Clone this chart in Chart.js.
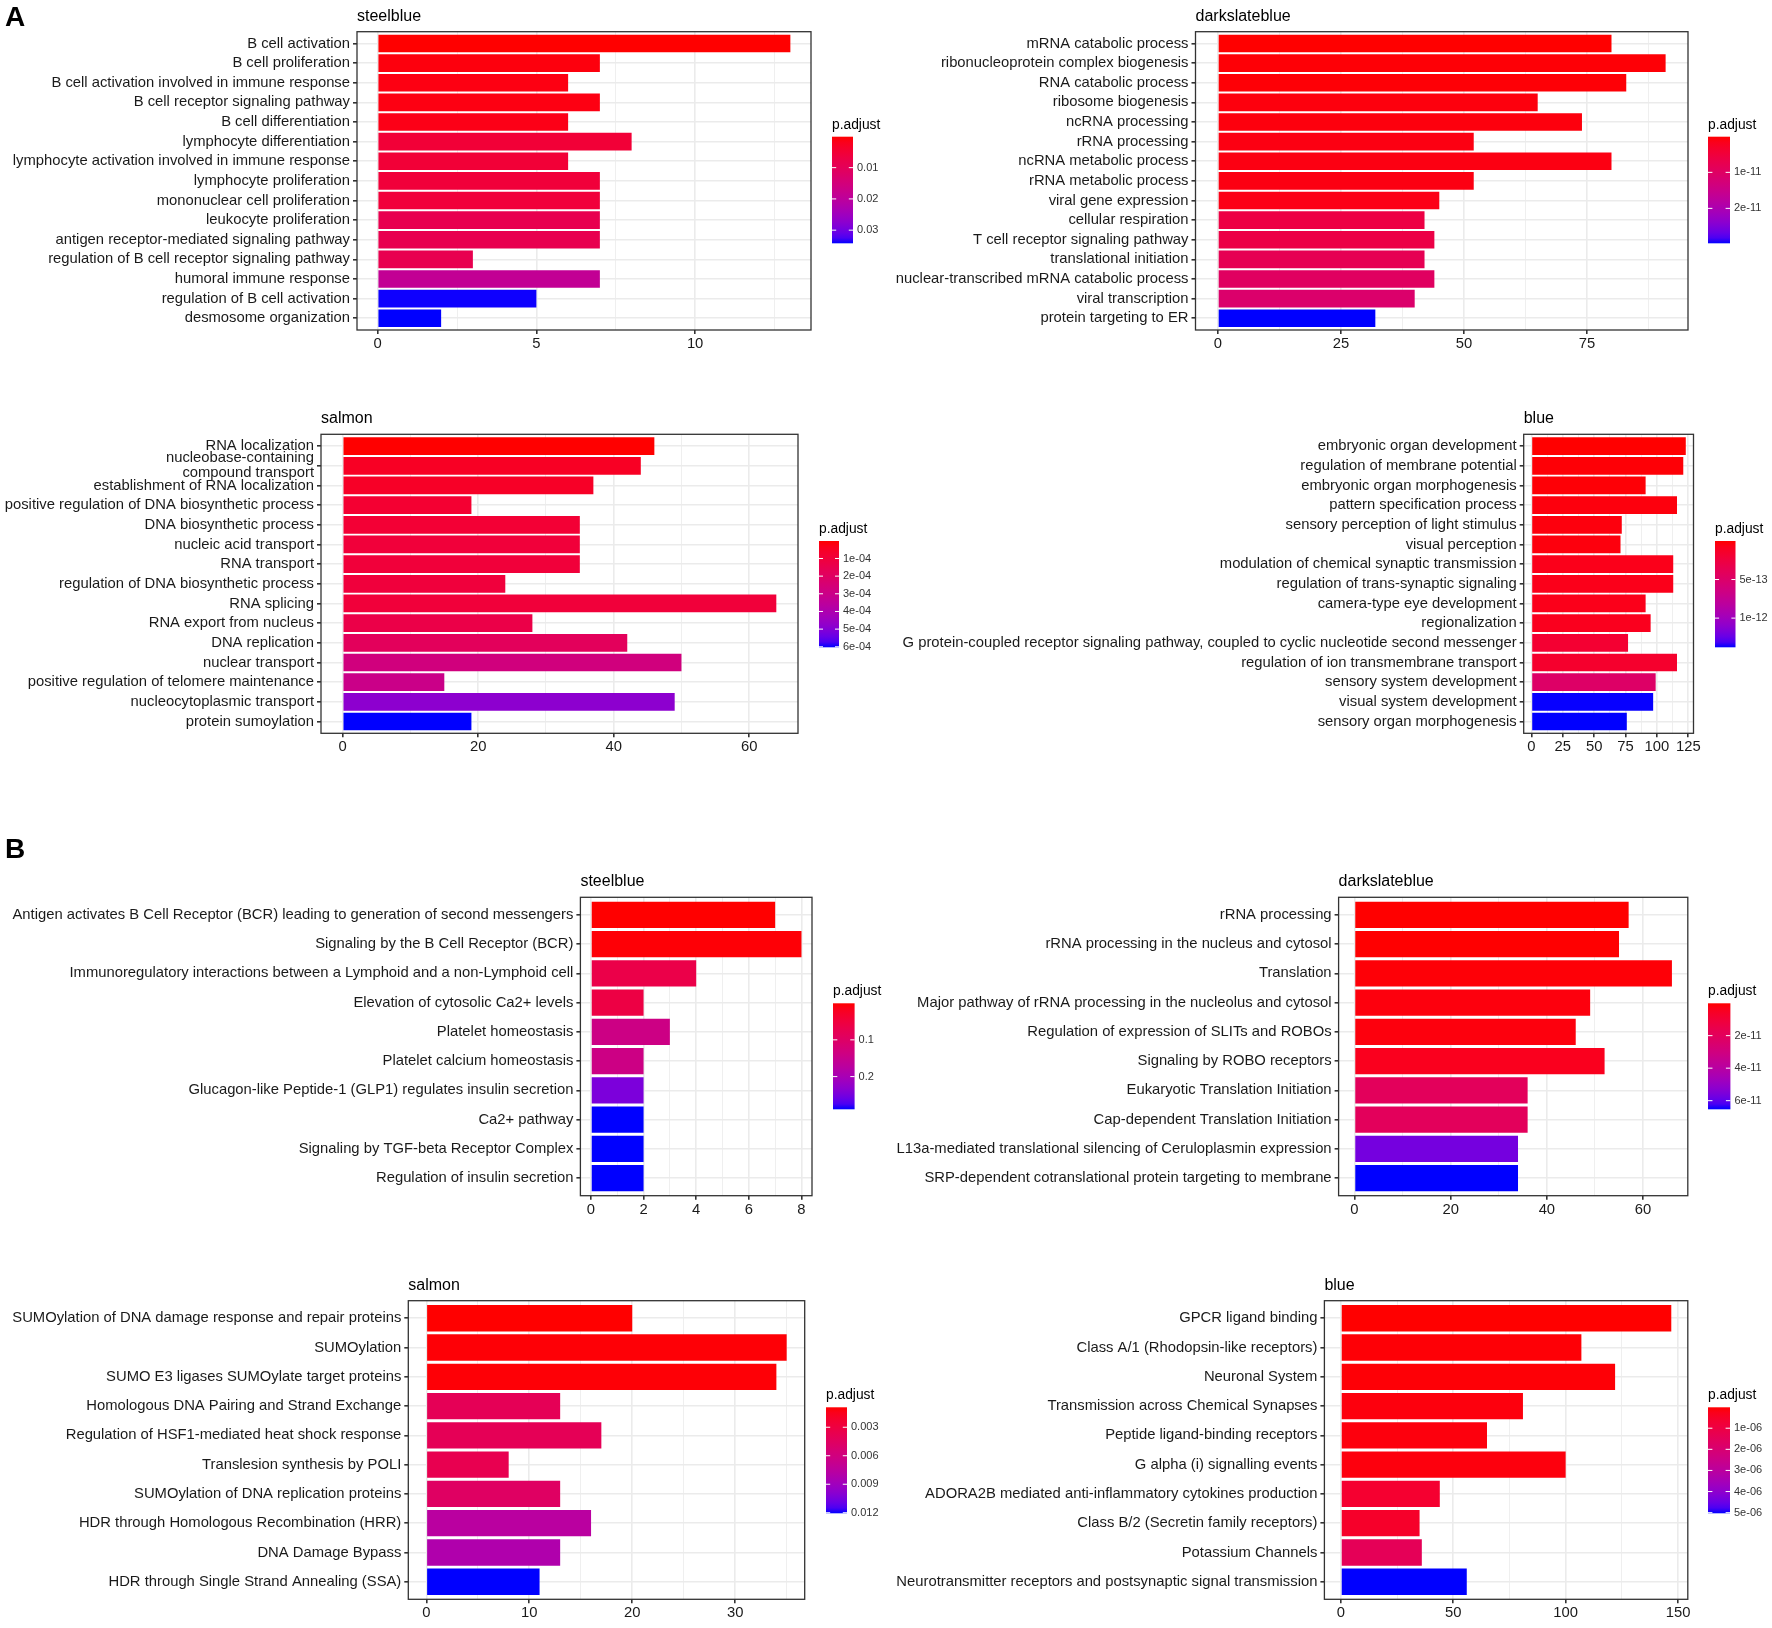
<!DOCTYPE html>
<html>
<head>
<meta charset="utf-8">
<script src="https://cdn.jsdelivr.net/npm/chart.js@4.4.0/dist/chart.umd.min.js"></script>
<style>
  body { margin: 0; background: #fff; }
  #page { position: relative; width: 1772px; height: 1628px; background: #fff; }
  #page canvas { position: absolute; }
</style>
</head>
<body>
<div id="page"></div>
<script>
// ---- data ----
const termsA1 = ['B cell activation', 'B cell proliferation', 'B cell activation involved in immune response', 'B cell receptor signaling pathway', 'B cell differentiation', 'lymphocyte differentiation', 'lymphocyte activation involved in immune response', 'lymphocyte proliferation', 'mononuclear cell proliferation', 'leukocyte proliferation', 'antigen receptor-mediated signaling pathway', 'regulation of B cell receptor signaling pathway', 'humoral immune response', 'regulation of B cell activation', 'desmosome organization'];
const countsA1 = [13, 7, 6, 7, 6, 8, 6, 7, 7, 7, 7, 3, 7, 5, 2];
const padjA1 = [0.0001, 0.0008, 0.0011, 0.0011, 0.0015, 0.0052, 0.0052, 0.0056, 0.0056, 0.0086, 0.0086, 0.0086, 0.0189, 0.0341, 0.0342];
const xTicksA1 = [0, 5, 10];
const legTicksA1 = [0.01, 0.02, 0.03];
const legLabelsA1 = ['0.01', '0.02', '0.03'];

const termsA2 = ['mRNA catabolic process', 'ribonucleoprotein complex biogenesis', 'RNA catabolic process', 'ribosome biogenesis', 'ncRNA processing', 'rRNA processing', 'ncRNA metabolic process', 'rRNA metabolic process', 'viral gene expression', 'cellular respiration', 'T cell receptor signaling pathway', 'translational initiation', 'nuclear-transcribed mRNA catabolic process', 'viral transcription', 'protein targeting to ER'];
const countsA2 = [80, 91, 83, 65, 74, 52, 80, 52, 45, 42, 44, 42, 44, 40, 32];
const padjA2 = [1e-13, 4e-13, 4e-13, 7e-13, 7e-13, 1e-12, 1e-12, 1e-12, 1.3e-12, 6e-12, 6.3e-12, 8e-12, 9.6e-12, 1.1e-11, 2.97e-11];
const xTicksA2 = [0, 25, 50, 75];
const legTicksA2 = [1e-11, 2e-11];
const legLabelsA2 = ['1e-11', '2e-11'];

const termsA3 = ['RNA localization', 'nucleobase-containing\ncompound transport', 'establishment of RNA localization', 'positive regulation of DNA biosynthetic process', 'DNA biosynthetic process', 'nucleic acid transport', 'RNA transport', 'regulation of DNA biosynthetic process', 'RNA splicing', 'RNA export from nucleus', 'DNA replication', 'nuclear transport', 'positive regulation of telomere maintenance', 'nucleocytoplasmic transport', 'protein sumoylation'];
const countsA3 = [46, 44, 37, 19, 35, 35, 35, 24, 64, 28, 42, 50, 15, 49, 19];
const padjA3 = [1e-6, 4.9e-5, 5.5e-5, 7.9e-5, 8.5e-5, 9.7e-5, 9.7e-5, 1.03e-4, 9.7e-5, 1.33e-4, 1.82e-4, 2.72e-4, 3.02e-4, 4.83e-4, 6.03e-4];
const xTicksA3 = [0, 20, 40, 60];
const legTicksA3 = [1e-4, 2e-4, 3e-4, 4e-4, 5e-4, 6e-4];
const legLabelsA3 = ['1e-04', '2e-04', '3e-04', '4e-04', '5e-04', '6e-04'];

const termsA4 = ['embryonic organ development', 'regulation of membrane potential', 'embryonic organ morphogenesis', 'pattern specification process', 'sensory perception of light stimulus', 'visual perception', 'modulation of chemical synaptic transmission', 'regulation of trans-synaptic signaling', 'camera-type eye development', 'regionalization', 'G protein-coupled receptor signaling pathway, coupled to cyclic nucleotide second messenger', 'regulation of ion transmembrane transport', 'sensory system development', 'visual system development', 'sensory organ morphogenesis'];
const countsA4 = [123, 121, 91, 116, 72, 71, 113, 113, 91, 95, 77, 116, 99, 97, 76];
const padjA4 = [1e-15, 1.5e-14, 1.5e-14, 2.9e-14, 2.9e-14, 2.9e-14, 7e-14, 7e-14, 7e-14, 8.4e-14, 1.8e-13, 1.52e-13, 4.83e-13, 1.376e-12, 1.378e-12];
const xTicksA4 = [0, 25, 50, 75, 100, 125];
const legTicksA4 = [5e-13, 1e-12];
const legLabelsA4 = ['5e-13', '1e-12'];

const termsB1 = ['Antigen activates B Cell Receptor (BCR) leading to generation of second messengers', 'Signaling by the B Cell Receptor (BCR)', 'Immunoregulatory interactions between a Lymphoid and a non-Lymphoid cell', 'Elevation of cytosolic Ca2+ levels', 'Platelet homeostasis', 'Platelet calcium homeostasis', 'Glucagon-like Peptide-1 (GLP1) regulates insulin secretion', 'Ca2+ pathway', 'Signaling by TGF-beta Receptor Complex', 'Regulation of insulin secretion'];
const countsB1 = [7, 8, 4, 2, 3, 2, 2, 2, 2, 2];
const padjB1 = [0.0005, 0.0034, 0.064, 0.058, 0.139, 0.139, 0.246, 0.289, 0.289, 0.289];
const xTicksB1 = [0, 2, 4, 6, 8];
const legTicksB1 = [0.1, 0.2];
const legLabelsB1 = ['0.1', '0.2'];

const termsB2 = ['rRNA processing', 'rRNA processing in the nucleus and cytosol', 'Translation', 'Major pathway of rRNA processing in the nucleolus and cytosol', 'Regulation of expression of SLITs and ROBOs', 'Signaling by ROBO receptors', 'Eukaryotic Translation Initiation', 'Cap-dependent Translation Initiation', 'L13a-mediated translational silencing of Ceruloplasmin expression', 'SRP-dependent cotranslational protein targeting to membrane'];
const countsB2 = [57, 55, 66, 49, 46, 52, 36, 36, 34, 34];
const padjB2 = [1e-13, 2e-13, 8e-13, 1.4e-12, 1.4e-12, 4e-12, 1.97e-11, 1.97e-11, 5.68e-11, 6.53e-11];
const xTicksB2 = [0, 20, 40, 60];
const legTicksB2 = [2e-11, 4e-11, 6e-11];
const legLabelsB2 = ['2e-11', '4e-11', '6e-11'];

const termsB3 = ['SUMOylation of DNA damage response and repair proteins', 'SUMOylation', 'SUMO E3 ligases SUMOylate target proteins', 'Homologous DNA Pairing and Strand Exchange', 'Regulation of HSF1-mediated heat shock response', 'Translesion synthesis by POLI', 'SUMOylation of DNA replication proteins', 'HDR through Homologous Recombination (HRR)', 'DNA Damage Bypass', 'HDR through Single Strand Annealing (SSA)'];
const countsB3 = [20, 35, 34, 13, 17, 8, 13, 16, 13, 11];
const padjB3 = [0.0009, 0.001, 0.001, 0.004, 0.004, 0.0037, 0.0046, 0.0076, 0.0082, 0.01206];
const xTicksB3 = [0, 10, 20, 30];
const legTicksB3 = [0.003, 0.006, 0.009, 0.012];
const legLabelsB3 = ['0.003', '0.006', '0.009', '0.012'];

const termsB4 = ['GPCR ligand binding', 'Class A/1 (Rhodopsin-like receptors)', 'Neuronal System', 'Transmission across Chemical Synapses', 'Peptide ligand-binding receptors', 'G alpha (i) signalling events', 'ADORA2B mediated anti-inflammatory cytokines production', 'Class B/2 (Secretin family receptors)', 'Potassium Channels', 'Neurotransmitter receptors and postsynaptic signal transmission'];
const countsB4 = [147, 107, 122, 81, 65, 100, 44, 35, 36, 56];
const padjB4 = [1e-8, 6e-8, 6e-8, 1.1e-7, 1.1e-7, 1.1e-7, 6.1e-7, 5.1e-7, 1.42e-6, 5.03e-6];
const xTicksB4 = [0, 50, 100, 150];
const legTicksB4 = [1e-6, 2e-6, 3e-6, 4e-6, 5e-6];
const legLabelsB4 = ['1e-06', '2e-06', '3e-06', '4e-06', '5e-06'];

// ---- layout: page coordinates of each panel ----
// canvas [x, y, w, h], plot box [left, top, right, bottom], colour bar [x, y, w, h]
const panels = [
  { title: 'steelblue', tag: 'A', tagY: 18, terms: termsA1, counts: countsA1, padj: padjA1, xTicks: xTicksA1, legTicks: legTicksA1, legLabels: legLabelsA1,
    canvas: [0, 0, 886, 380], box: [357, 31.7, 811, 330], bar: [832, 136.7, 21, 106.6] },
  { title: 'darkslateblue', terms: termsA2, counts: countsA2, padj: padjA2, xTicks: xTicksA2, legTicks: legTicksA2, legLabels: legLabelsA2,
    canvas: [886, 0, 886, 380], box: [1195.5, 31.7, 1688, 330], bar: [1708, 136.7, 22, 106.6] },
  { title: 'salmon', terms: termsA3, counts: countsA3, padj: padjA3, xTicks: xTicksA3, legTicks: legTicksA3, legLabels: legLabelsA3,
    canvas: [0, 385, 886, 400], box: [321, 434.3, 798, 733.3], bar: [819, 541, 20, 106.3] },
  { title: 'blue', terms: termsA4, counts: countsA4, padj: padjA4, xTicks: xTicksA4, legTicks: legTicksA4, legLabels: legLabelsA4,
    canvas: [886, 385, 886, 400], box: [1523.7, 434.3, 1693.5, 733.3], bar: [1715, 541, 20.5, 106.3] },
  { title: 'steelblue', tag: 'B', tagY: 850, terms: termsB1, counts: countsB1, padj: padjB1, xTicks: xTicksB1, legTicks: legTicksB1, legLabels: legLabelsB1,
    canvas: [0, 830, 886, 400], box: [580.4, 897.3, 812, 1195.7], bar: [833, 1003.3, 21.6, 106] },
  { title: 'darkslateblue', terms: termsB2, counts: countsB2, padj: padjB2, xTicks: xTicksB2, legTicks: legTicksB2, legLabels: legLabelsB2,
    canvas: [886, 830, 886, 400], box: [1338.6, 897.3, 1687.8, 1195.7], bar: [1708, 1003.3, 22.4, 106] },
  { title: 'salmon', terms: termsB3, counts: countsB3, padj: padjB3, xTicks: xTicksB3, legTicks: legTicksB3, legLabels: legLabelsB3,
    canvas: [0, 1240, 886, 388], box: [408.3, 1300.7, 804.7, 1599.3], bar: [826, 1407.3, 21, 106] },
  { title: 'blue', terms: termsB4, counts: countsB4, padj: padjB4, xTicks: xTicksB4, legTicks: legTicksB4, legLabels: legLabelsB4,
    canvas: [886, 1240, 886, 388], box: [1324.4, 1300.7, 1687.8, 1599.3], bar: [1708, 1407.3, 22, 106] }
];

const FONT = '"Liberation Sans", Arial, Helvetica, sans-serif';

// red -> blue gradient interpolated in CIE Lab (like ggplot's scale_fill_continuous)
function hexToLab(hex) {
  const n = parseInt(hex.slice(1), 16);
  const lin = [(n >> 16) & 255, (n >> 8) & 255, n & 255].map(v => {
    v /= 255;
    return v <= 0.04045 ? v / 12.92 : Math.pow((v + 0.055) / 1.055, 2.4);
  });
  const X = (0.4124564 * lin[0] + 0.3575761 * lin[1] + 0.1804375 * lin[2]) / 0.95047;
  const Y = 0.2126729 * lin[0] + 0.7151522 * lin[1] + 0.0721750 * lin[2];
  const Z = (0.0193339 * lin[0] + 0.1191920 * lin[1] + 0.9503041 * lin[2]) / 1.08883;
  const f = t => t > 216 / 24389 ? Math.cbrt(t) : (24389 / 27 * t + 16) / 116;
  return [116 * f(Y) - 16, 500 * (f(X) - f(Y)), 200 * (f(Y) - f(Z))];
}
function labToCss(L, a, b) {
  const fy = (L + 16) / 116, fx = fy + a / 500, fz = fy - b / 200;
  const inv = t => (t * t * t > 216 / 24389) ? t * t * t : (116 * t - 16) / (24389 / 27);
  const X = 0.95047 * inv(fx), Y = inv(fy), Z = 1.08883 * inv(fz);
  const lin = [
    3.2404542 * X - 1.5371385 * Y - 0.4985314 * Z,
    -0.9692660 * X + 1.8760108 * Y + 0.0415560 * Z,
    0.0556434 * X - 0.2040259 * Y + 1.0572252 * Z
  ];
  const rgb = lin.map(v => {
    v = Math.min(1, Math.max(0, v));
    v = v <= 0.0031308 ? 12.92 * v : 1.055 * Math.pow(v, 1 / 2.4) - 0.055;
    return Math.round(v * 255);
  });
  return 'rgb(' + rgb.join(',') + ')';
}
const LOW = hexToLab('#FF0000');
const HIGH = hexToLab('#0000FF');
function ramp(t) {
  t = Math.min(1, Math.max(0, t));
  return labToCss(LOW[0] + t * (HIGH[0] - LOW[0]), LOW[1] + t * (HIGH[1] - LOW[1]), LOW[2] + t * (HIGH[2] - LOW[2]));
}

// panel border, titles, tags and the p.adjust colour bar
const decor = {
  id: 'decor',
  afterDraw(chart, args, o) {
    const { ctx, chartArea: a } = chart;
    ctx.save();
    ctx.strokeStyle = '#333';
    ctx.lineWidth = 1.3;
    ctx.strokeRect(a.left, a.top, a.right - a.left, a.bottom - a.top);

    ctx.textAlign = 'left';
    ctx.textBaseline = 'middle';
    ctx.fillStyle = '#000';
    ctx.font = '16px ' + FONT;
    ctx.fillText(o.title, a.left, a.top - 15.5);
    if (o.tag) {
      ctx.font = 'bold 28px ' + FONT;
      ctx.fillText(o.tag, 5, o.tagY);
    }

    const [bx, by, bw, bh] = o.bar;
    const g = ctx.createLinearGradient(0, by, 0, by + bh);
    for (let i = 0; i <= 20; i++) g.addColorStop(i / 20, ramp(i / 20));
    ctx.fillStyle = g;
    ctx.fillRect(bx, by, bw, bh);

    ctx.fillStyle = '#000';
    ctx.font = '13.8px ' + FONT;
    ctx.fillText('p.adjust', bx, by - 12);

    ctx.font = '11px ' + FONT;
    ctx.strokeStyle = '#fff';
    ctx.lineWidth = 1;
    o.legTicks.forEach((v, i) => {
      const y = by + (v - o.lo) / (o.hi - o.lo) * bh;
      ctx.beginPath();
      ctx.moveTo(bx, y); ctx.lineTo(bx + bw / 5, y);
      ctx.moveTo(bx + bw * 4 / 5, y); ctx.lineTo(bx + bw, y);
      ctx.stroke();
      ctx.fillStyle = '#333';
      ctx.fillText(o.legLabels[i], bx + bw + 4, y);
    });
    ctx.restore();
  }
};

const page = document.getElementById('page');

panels.forEach(p => {
  const [cx, cy, cw, ch] = p.canvas;
  const [bl, bt, br, bb] = p.box;
  const cv = document.createElement('canvas');
  cv.width = cw;
  cv.height = ch;
  cv.style.left = cx + 'px';
  cv.style.top = cy + 'px';
  page.appendChild(cv);

  const n = p.terms.length;
  const maxCount = Math.max(...p.counts);
  const xMin = -0.05 * maxCount, xMax = 1.05 * maxCount;
  const step = p.xTicks[1] - p.xTicks[0];
  const minorTicks = [];
  for (let v = p.xTicks[0] - step / 2; v < xMax; v += step) {
    if (v > xMin) minorTicks.push(v);
  }
  const lo = Math.min(...p.padj), hi = Math.max(...p.padj);

  new Chart(cv, {
    type: 'bar',
    data: {
      datasets: [{
        data: p.counts.map((c, i) => ({ x: c, y: i + 1 })),
        backgroundColor: p.padj.map(v => ramp((v - lo) / (hi - lo))),
        borderWidth: 0,
        barPercentage: 0.9,
        categoryPercentage: 1
      }]
    },
    options: {
      indexAxis: 'y',
      responsive: false,
      animation: false,
      events: [],
      layout: { padding: { left: 0, top: bt - cy, right: cx + cw - br, bottom: 0 } },
      plugins: {
        legend: { display: false },
        tooltip: { enabled: false },
        decor: {
          title: p.title, tag: p.tag, tagY: p.tag ? p.tagY - cy : 0,
          bar: [p.bar[0] - cx, p.bar[1] - cy, p.bar[2], p.bar[3]],
          legTicks: p.legTicks, legLabels: p.legLabels, lo: lo, hi: hi
        }
      },
      scales: {
        x: {
          type: 'linear',
          position: 'bottom',
          min: xMin,
          max: xMax,
          afterBuildTicks: s => {
            s.ticks = p.xTicks.map(v => ({ value: v }))
              .concat(minorTicks.map(v => ({ value: v, minor: true })))
              .sort((a, b) => a.value - b.value);
          },
          afterFit: s => { s.height = cy + ch - bb; },
          border: { display: false },
          grid: {
            color: '#EBEBEB',
            lineWidth: c => (c.tick && c.tick.minor) ? 0.8 : 1.6,
            tickColor: c => (c.tick && c.tick.minor) ? 'rgba(0,0,0,0)' : '#333',
            tickLength: 4
          },
          ticks: {
            autoSkip: false,
            maxRotation: 0,
            padding: 1,
            color: '#1a1a1a',
            font: { family: FONT, size: 14.8 },
            callback: (v, i, t) => t[i].minor ? '' : String(v)
          }
        },
        y: {
          type: 'linear',
          reverse: true,
          offset: false,
          min: 0.4,
          max: n + 0.6,
          afterBuildTicks: s => { s.ticks = p.terms.map((t, i) => ({ value: i + 1 })); },
          afterFit: s => { s.width = bl - cx; },
          border: { display: false },
          grid: { offset: false, color: '#EBEBEB', lineWidth: 1.6, tickColor: '#333', tickLength: 4 },
          ticks: {
            autoSkip: false,
            padding: 3,
            color: '#1a1a1a',
            font: { family: FONT, size: 14.8, lineHeight: 1.0 },
            callback: v => {
              const t = p.terms[Math.round(v) - 1];
              return t.includes('\n') ? t.split('\n') : t;
            }
          }
        }
      }
    },
    plugins: [decor]
  });
});
</script>
</body>
</html>
